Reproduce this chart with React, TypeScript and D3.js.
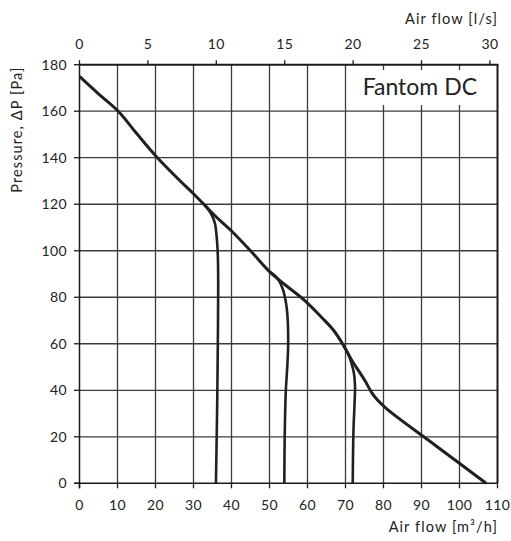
import { useEffect, useRef } from "react";
import * as d3 from "d3";

// max speed curve [m³/h, Pa]
const maxCurve: [number, number][] = [
  [0, 175], [5, 167.5], [10.2, 160], [15, 150.5], [20.5, 140], [26.5, 130],
  [30, 124.5], [33, 119.5], [36, 114.5], [40, 108.5], [45, 100], [50, 91],
  [54, 85.5], [59, 79], [64, 70.9], [67, 65.5], [69.4, 59.5], [71.6, 53],
  [73, 49.5], [75.1, 44.2], [76.9, 39], [78.3, 36], [81, 31.8], [93.5, 16.5], [107, 0],
];

// constant flow branches
const lowCurve: [number, number][] = [
  [33, 119.5], [34.6, 116], [35.6, 112], [36.1, 106], [36.4, 98], [36.5, 85],
  [36.4, 60], [36.2, 30], [35.9, 0],
];
const midCurve: [number, number][] = [
  [50, 91], [51.9, 88.5], [53.4, 84], [54.4, 77], [54.8, 70], [54.9, 58.7],
  [54.6, 48], [54.3, 40], [54.0, 20], [53.9, 0],
];
const highCurve: [number, number][] = [
  [69.4, 59.5], [70.6, 56], [71.6, 51.5], [72.2, 47.5], [72.5, 42], [72.4, 35],
  [72.1, 22.9], [71.9, 0],
];

const flowTicks = [0, 10, 20, 30, 40, 50, 60, 70, 80, 90, 100, 110];
const litreTicks = [0, 5, 10, 15, 20, 25, 30];
const pressureTicks = [0, 20, 40, 60, 80, 100, 120, 140, 160, 180];

const W = 511;
const H = 541;
const FONT = "Lato, 'Open Sans', sans-serif";

export default function App() {
  const svgRef = useRef<SVGSVGElement>(null);

  useEffect(() => {
    if (!svgRef.current) return;
    const svg = d3.select(svgRef.current);
    svg.selectAll("*").remove();

    const x = d3.scaleLinear().domain([0, 110]).range([79.5, 497.5]);
    const xl = d3.scaleLinear().domain([0, 110 / 3.6]).range([79.5, 497.5]);
    const y = d3.scaleLinear().domain([0, 180]).range([483.3, 64.7]);

    svg.append("rect").attr("width", W).attr("height", H).attr("fill", "#fff");

    // grid
    svg.append("g")
      .selectAll("line")
      .data(flowTicks.slice(1, -1))
      .enter()
      .append("line")
      .attr("x1", (d) => x(d)).attr("x2", (d) => x(d))
      .attr("y1", y(0)).attr("y2", y(180))
      .attr("stroke", "#3c3c3c").attr("stroke-width", 1.3);

    svg.append("g")
      .selectAll("line")
      .data(pressureTicks.slice(1, -1))
      .enter()
      .append("line")
      .attr("x1", x(0)).attr("x2", x(110))
      .attr("y1", (d) => y(d)).attr("y2", (d) => y(d))
      .attr("stroke", "#3c3c3c").attr("stroke-width", 1.3);

    // label box hides grid
    svg.append("rect")
      .attr("x", x(70) + 1.2).attr("y", 70)
      .attr("width", x(110) - x(70) - 2.5).attr("height", 35)
      .attr("fill", "#fff");

    // frame
    svg.append("line").attr("x1", x(0)).attr("x2", x(110) + 1).attr("y1", y(180)).attr("y2", y(180))
      .attr("stroke", "#1a1a1a").attr("stroke-width", 2);
    svg.append("line").attr("x1", x(110)).attr("x2", x(110)).attr("y1", y(180)).attr("y2", y(0))
      .attr("stroke", "#1a1a1a").attr("stroke-width", 2);
    svg.append("line").attr("x1", x(0)).attr("x2", x(0)).attr("y1", y(180)).attr("y2", y(0) + 5)
      .attr("stroke", "#1a1a1a").attr("stroke-width", 1.5);
    svg.append("line").attr("x1", x(0) - 5).attr("x2", x(110)).attr("y1", y(0)).attr("y2", y(0))
      .attr("stroke", "#1a1a1a").attr("stroke-width", 1.5);

    // ticks
    svg.append("g")
      .selectAll("line")
      .data(pressureTicks)
      .enter()
      .append("line")
      .attr("x1", x(0) - 5.5).attr("x2", x(0))
      .attr("y1", (d) => y(d)).attr("y2", (d) => y(d))
      .attr("stroke", "#1a1a1a").attr("stroke-width", 1.3);
    svg.append("g")
      .selectAll("line")
      .data(flowTicks)
      .enter()
      .append("line")
      .attr("x1", (d) => x(d)).attr("x2", (d) => x(d))
      .attr("y1", y(0)).attr("y2", y(0) + 5)
      .attr("stroke", "#1a1a1a").attr("stroke-width", 1.3);
    svg.append("g")
      .selectAll("line")
      .data(litreTicks)
      .enter()
      .append("line")
      .attr("x1", (d) => xl(d)).attr("x2", (d) => xl(d))
      .attr("y1", y(180) - 4.5).attr("y2", y(180))
      .attr("stroke", "#1a1a1a").attr("stroke-width", 1.3);

    // tick labels
    const labelStyle = (sel: d3.Selection<SVGTextElement, number, SVGGElement, unknown>) =>
      sel.style("font-family", FONT).style("font-size", "14px")
        .style("letter-spacing", "0.4px").attr("fill", "#222");

    svg.append("g")
      .selectAll("text")
      .data(pressureTicks)
      .enter()
      .append("text")
      .attr("x", 67).attr("y", (d) => y(d)).attr("dy", "0.36em")
      .attr("text-anchor", "end")
      .call(labelStyle)
      .text((d) => d);
    svg.append("g")
      .selectAll("text")
      .data(flowTicks)
      .enter()
      .append("text")
      .attr("x", (d) => x(d)).attr("y", 510)
      .attr("text-anchor", "middle")
      .call(labelStyle)
      .text((d) => d);
    svg.append("g")
      .selectAll("text")
      .data(litreTicks)
      .enter()
      .append("text")
      .attr("x", (d) => xl(d)).attr("y", 48.5)
      .attr("text-anchor", "middle")
      .call(labelStyle)
      .text((d) => d);

    // axis titles
    const title = (t: string) =>
      svg.append("text")
        .style("font-family", FONT).style("font-size", "14.5px")
        .style("letter-spacing", "1.1px")
        .attr("fill", "#222").text(t);
    title("Air flow [l/s]").attr("x", 498).attr("y", 24).attr("text-anchor", "end");
    title("Air flow [m³/h]").attr("x", 498).attr("y", 532).attr("text-anchor", "end");
    title("Pressure, ΔP [Pa]")
      .attr("text-anchor", "end")
      .attr("transform", "translate(22, 66.5) rotate(-90)");

    svg.append("text")
      .attr("x", 477).attr("y", 95)
      .attr("text-anchor", "end")
      .style("font-family", FONT).style("font-size", "23px")
      .attr("fill", "#222")
      .text("Fantom DC");

    // curves
    const line = d3.line<[number, number]>()
      .x((d) => x(d[0]))
      .y((d) => y(d[1]))
      .curve(d3.curveCatmullRom.alpha(0.5));

    const curves = [
      { pts: lowCurve, w: 2.6 },
      { pts: midCurve, w: 2.6 },
      { pts: highCurve, w: 2.6 },
      { pts: maxCurve, w: 3 },
    ];
    svg.append("g")
      .selectAll("path")
      .data(curves)
      .enter()
      .append("path")
      .attr("d", (d) => line(d.pts))
      .attr("fill", "none")
      .attr("stroke", "#231f20")
      .attr("stroke-width", (d) => d.w)
      .attr("stroke-linejoin", "round");
  }, []);

  return (
    <svg
      ref={svgRef}
      width={W}
      height={H}
      style={{ position: "absolute", left: 0, top: 0 }}
    />
  );
}
